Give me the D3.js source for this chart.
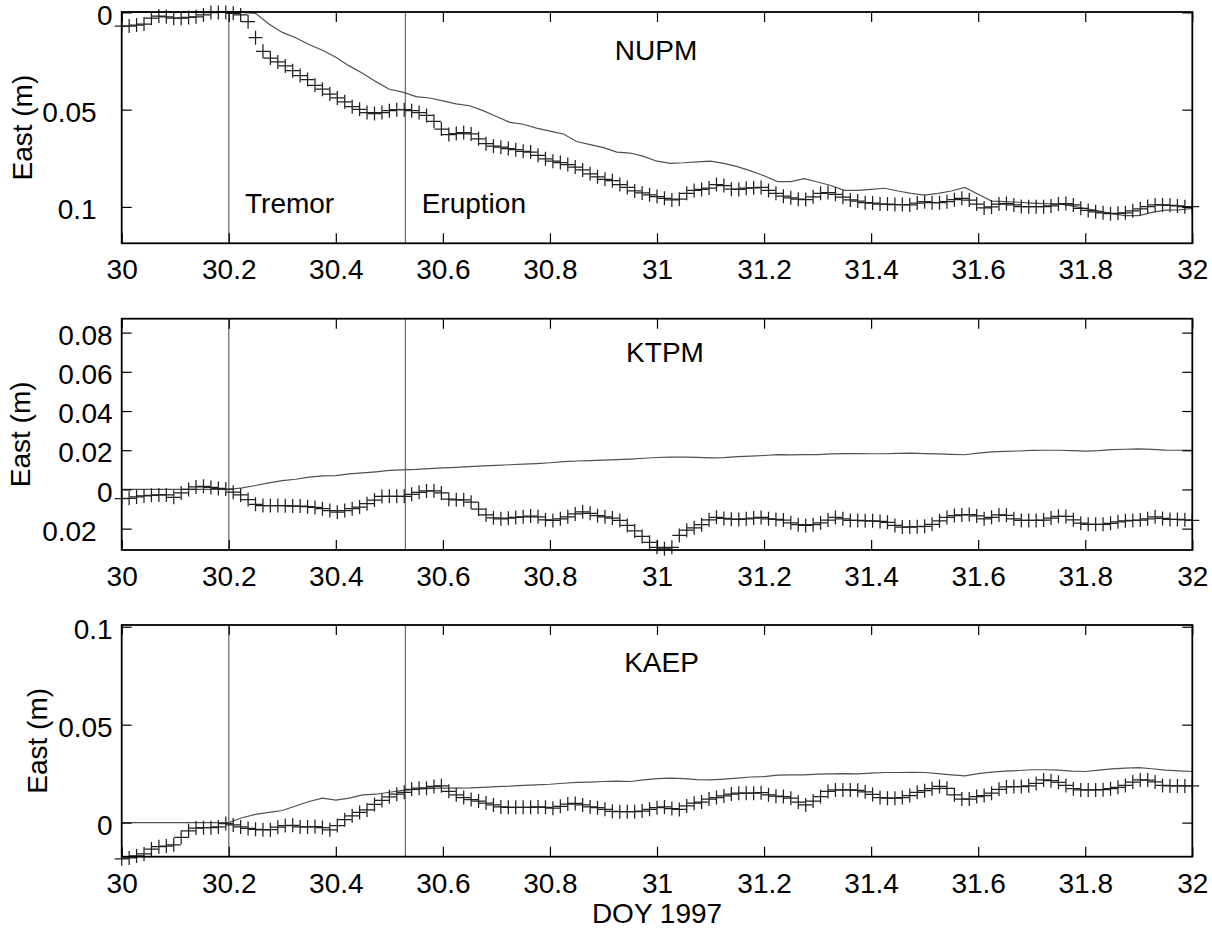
<!DOCTYPE html>
<html>
<head>
<meta charset="utf-8">
<script src="https://cdn.jsdelivr.net/npm/d3@7"></script>
<style>
  html, body { margin: 0; padding: 0; background: #fff; }
  svg { display: block; }
  text { font-family: "Liberation Sans", Arial, Helvetica, sans-serif; fill: #000; }
</style>
</head>
<body>
<svg id="chart" width="1212" height="930"></svg>
<script>
// ---------------- DATA ----------------
// Time axis (day of year 1997)
const xDomain = [30, 32];
const xTicks = [30, 30.2, 30.4, 30.6, 30.8, 31, 31.2, 31.4, 31.6, 31.8, 32];
const xTickLabels = ["30", "30.2", "30.4", "30.6", "30.8", "31", "31.2", "31.4", "31.6", "31.8", "32"];
const xLabel = "DOY 1997";
const yLabel = "East (m)";

// Event markers
const eventTimes = [30.2, 30.53];
const eventNames = ["Tremor", "Eruption"];

// Observed series: 20-minute samples starting at DOY 30.0 (values in mm)
const obsStart = 30;
const obsStep = 1 / 72;
// Model series: samples every 0.025 day starting at DOY 30.0 (values in mm)
const modelStart = 30;
const modelStep = 0.025;

const stations = ["NUPM", "KTPM", "KAEP"];

const nupmObs = [
  -7, -7, -6.5, -6, -3, -1.9, -2.3, -3, -3, -2.6,
  -2.3, -1.3, -0.1, 0, 0, -0.5, -1.3, -4.8, -13, -20,
  -23.5, -25.5, -27.5, -30, -32.5, -34.5, -37.5, -39.5, -42, -44,
  -46, -48.5, -49.8, -51.5, -52, -51.5, -50.5, -50, -50, -50.5,
  -51.5, -53, -56, -60, -62.8, -62.3, -61.8, -62.5, -65, -67.5,
  -68.8, -69.3, -70, -70.6, -71.4, -71.8, -73.5, -75.3, -76.5, -77.2,
  -78.2, -79.5, -81, -83, -84.5, -85.8, -86.5, -88.5, -90, -91.8,
  -92.8, -93.8, -94.7, -95.6, -96.4, -96, -93, -91.5, -91, -90.3,
  -88.5, -89, -90.9, -91, -90.4, -90.2, -90, -91.5, -93, -94.5,
  -95.3, -96, -96.2, -94.8, -93, -92.6, -93.5, -95, -96.4, -97,
  -97.8, -98, -98.5, -98.5, -98.8, -98.8, -99, -98, -97.3, -97.8,
  -97.8, -97.3, -96.3, -95.6, -96.5, -98.5, -100.5, -100, -98.5, -98.3,
  -99, -99.8, -99.9, -99.9, -99.9, -99.5, -98.5, -98.3, -99, -100.7,
  -101.8, -102.5, -103, -103.5, -103.3, -103, -102, -101, -99.8, -99,
  -99, -99.2, -99.5, -99.9, -99.9
];
const nupmModel = [
  0, 0, 0, 0, 0, 0, 0, 0, 0, 0,
  -0.5, -6, -10.3, -13, -16.5, -19.5, -23.1, -27.5, -31.3, -35.6,
  -39.5, -41, -43.3, -44, -45.5, -47, -48, -50.5, -53.5, -56.5,
  -57.5, -59.5, -61, -62.5, -66.4, -68, -69.5, -71.8, -72.3, -74,
  -76.5, -77.6, -77.3, -76.8, -76.5, -77.6, -79.3, -81.5, -84, -87,
  -87, -85.5, -87.2, -89, -91.5, -91.5, -91, -90.4, -91.8, -93,
  -93.9, -93, -91.8, -90, -93.5, -97, -97.3, -97.6, -98, -98.3,
  -98.5, -99.5, -100.8, -102, -103.5, -104.5, -104.5, -102.8, -101.6, -101.5,
  -100.7
];

const ktpmObs = [
  -4.7, -4.5, -3.8, -3.3, -3, -2.8, -2.8, -4, -1.8, 0,
  1.3, 1.6, 1, 0.5, 0.2, -1.4, -2.8, -5.2, -7.6, -8.2,
  -8.2, -8.2, -8.3, -8.5, -8.5, -8.8, -9.2, -9.8, -10.8, -11.6,
  -10.8, -9.8, -9, -7.3, -5.4, -3.6, -3.5, -3.5, -3.5, -2.5,
  -1.5, -0.8, -0.7, -1.8, -5, -5.3, -5.3, -6.5, -10, -13,
  -14.5, -15, -14.7, -14.3, -14, -13.6, -14, -15.5, -15.8, -15,
  -14, -12.5, -11.4, -12.2, -13.4, -14, -14.6, -15.8, -18.4, -21.2,
  -24, -27, -29.5, -30.3, -29.5, -23.5, -20.8, -19.6, -18, -15.5,
  -14.2, -14.8, -15.2, -15.3, -15, -14.6, -14.3, -15, -15.3, -15.6,
  -17, -18, -18.4, -18, -17, -15.6, -14.3, -15, -15.8, -15.8,
  -16, -16, -16.3, -16.8, -18.4, -19.2, -19.2, -19, -18.8, -17.8,
  -16, -14.3, -13.3, -13, -12.8, -13.5, -15, -14.2, -13, -13.2,
  -15, -15.8, -15.8, -15.8, -15.6, -14.6, -13.7, -13.8, -15.5, -17.2,
  -17.8, -17.8, -17.8, -17.3, -16.5, -16, -15.8, -15.6, -15, -14,
  -14.8, -15.3, -15.3, -15.5, -15.8
];
const ktpmModel = [
  0, 0, 0, 0, 0, 0, 0, 0, 0, 0.8,
  2, 3.3, 4.5, 5.2, 6.3, 6.9, 7, 7.9, 8.4, 9,
  9.7, 10, 10.2, 10.6, 11, 11.3, 11.6, 12, 12.3, 12.6,
  12.9, 13.2, 13.6, 14.2, 14.5, 14.7, 14.9, 15.2, 15.5, 15.9,
  16.3, 16.5, 16.5, 16.4, 16.1, 16.2, 16.7, 17, 17.3, 17.8,
  17.6, 17.8, 17.8, 18.1, 18.3, 18.3, 18.2, 18.2, 18.4, 18.5,
  18.3, 18.1, 17.9, 17.7, 18.5, 19.2, 19.4, 19.6, 19.9, 20,
  20, 19.8, 19.5, 19.8, 20.3, 20.5, 20.7, 20.4, 20.1, 20,
  19.9
];

const kaepObs = [
  -18.5, -18, -17, -16, -13.5, -12.3, -12, -11.3, -7.5, -4.2,
  -2.8, -2.6, -2.6, -2.2, -0.5, -1.2, -2.2, -3, -3.4, -3.7,
  -3.6, -2.3, -1.5, -1.4, -2.2, -2.2, -2, -2.5, -3.7, -1.5,
  1.5, 3.5, 5.2, 6.5, 9.3, 11.3, 13.2, 14.5, 15.5, 17,
  17.6, 17.6, 18.5, 18.8, 16, 14.2, 12.8, 11.8, 11, 10,
  9, 8, 7.8, 7.8, 7.8, 7.8, 8, 7.8, 7.4, 8.3,
  9.5, 9.8, 9, 8, 7.6, 6.8, 5.8, 5.6, 5.6, 5.6,
  5.9, 6.8, 7.6, 8, 7.2, 6.7, 8.5, 9.9, 10.5, 12,
  12.8, 13.6, 14.6, 15, 15, 15, 15.3, 14.2, 13.5, 13.3,
  12.5, 10.5, 9, 11, 13.3, 15.9, 16.7, 16.7, 16.7, 16.5,
  15.7, 14.4, 12.8, 12.5, 12.5, 12.8, 13.8, 15.5, 16.3, 17.3,
  18.5, 17.5, 14.2, 12, 12, 13.3, 13.8, 15, 17, 18.2,
  18.4, 18.4, 18.8, 20, 21.8, 21.4, 20.6, 19, 17.3, 16.7,
  16.7, 16.7, 16.8, 17.3, 18, 19, 20.7, 21.8, 21.7, 20.8,
  19, 18.7, 18.7, 18.7, 18.7
];
const kaepModel = [
  0, 0, 0, 0, 0, 0, 0, 0, 0, 2.5,
  4.2, 5.2, 6.2, 8.5, 10.8, 12.5, 11.5, 12.5, 14.2, 14.5,
  15.5, 16.5, 17, 17.5, 17.6, 17.6, 17.7, 18, 18.4, 18.6,
  19, 19.3, 19.6, 20.1, 20.5, 20.7, 21, 21.2, 21, 21.8,
  22.5, 22.7, 22.5, 22, 21.8, 22.2, 22.7, 23.3, 23.5, 24.2,
  24.4, 24.4, 24.8, 24.9, 25, 24.9, 25.3, 25.6, 25.6, 25.7,
  25.6, 25, 24.4, 23.9, 25, 25.8, 26.3, 26.6, 27, 27,
  26.8, 26.3, 26.1, 26.8, 27.4, 27.8, 28.1, 27.5, 26.8, 26.4,
  26.1
];

// y-axis domains (mm) and tick labels (as printed, in m)
const nupmYDomain = [-118.7, 0.2];
const nupmYTicks = [0, -50, -100];
const nupmYTickLabels = ["0", "0.05", "0.1"];
const ktpmYDomain = [-30.9, 87.1];
const ktpmYTicks = [-20, 0, 20, 40, 60, 80];
const ktpmYTickLabels = ["0.02", "0", "0.02", "0.04", "0.06", "0.08"];
const kaepYDomain = [-17.4, 100.9];
const kaepYTicks = [0, 50, 100];
const kaepYTickLabels = ["0", "0.05", "0.1"];

// ---------------- LAYOUT ----------------
const W = 1212, H = 930;
const left = 121.7, right = 1192.3;
const panelsLayout = [
  { top: 12, bottom: 243.3, ylabX: 32, nameX: 656, nameDy: 48 },
  { top: 318.7, bottom: 550, ylabX: 30, nameX: 665, nameDy: 43 },
  { top: 625, bottom: 856.7, ylabX: 47, nameX: 661.5, nameDy: 47 }
];
const panelData = [
  { name: stations[0], obs: nupmObs, model: nupmModel, dom: nupmYDomain, ticks: nupmYTicks, labels: nupmYTickLabels },
  { name: stations[1], obs: ktpmObs, model: ktpmModel, dom: ktpmYDomain, ticks: ktpmYTicks, labels: ktpmYTickLabels },
  { name: stations[2], obs: kaepObs, model: kaepModel, dom: kaepYDomain, ticks: kaepYTicks, labels: kaepYTickLabels }
];

const FS = 28;
const svg = d3.select("#chart");
svg.append("rect").attr("width", W).attr("height", H).attr("fill", "#fff");

const x = d3.scaleLinear().domain(xDomain).range([left, right]);

panelData.forEach((p, pi) => {
  const L = panelsLayout[pi];
  const y = d3.scaleLinear().domain(p.dom).range([L.bottom, L.top]);
  const g = svg.append("g");

  // event lines
  eventTimes.forEach(t => {
    g.append("line")
      .attr("x1", x(t)).attr("x2", x(t))
      .attr("y1", L.top).attr("y2", L.bottom)
      .attr("stroke", "#707070").attr("stroke-width", 1.3);
  });

  // model line
  const modelPts = p.model.map((v, k) => [modelStart + k * modelStep, v]);
  g.append("path")
    .datum(modelPts)
    .attr("fill", "none")
    .attr("stroke", "#505050")
    .attr("stroke-width", 1.2)
    .attr("d", d3.line().x(d => x(d[0])).y(d => y(d[1])));

  // observed markers ('+')
  const obsPts = p.obs.map((v, i) => [obsStart + i * obsStep, v]);
  g.append("g").selectAll("path")
    .data(obsPts)
    .join("path")
    .attr("transform", d => `translate(${x(d[0])},${y(d[1])})`)
    .attr("d", "M-7,0H7M0,-7V7")
    .attr("stroke", "#202020")
    .attr("stroke-width", 1.25)
    .attr("fill", "none");

  // axes with inward ticks on all sides
  const tickLen = 10;
  const axB = g.append("g").attr("transform", `translate(0,${L.bottom})`)
    .call(d3.axisBottom(x).tickValues(xTicks).tickSize(-tickLen).tickFormat((d, i) => xTickLabels[i]));
  axB.selectAll("text").attr("y", 36).attr("dy", 0).style("font-size", FS + "px");
  const axT = g.append("g").attr("transform", `translate(0,${L.top})`)
    .call(d3.axisTop(x).tickValues(xTicks).tickSize(-tickLen).tickFormat(""));
  const axL = g.append("g").attr("transform", `translate(${left},0)`)
    .call(d3.axisLeft(y).tickValues(p.ticks).tickSize(-tickLen).tickFormat((d, i) => p.labels[i]));
  axL.selectAll("text")
    .attr("x", d => d < 0 ? -25 : -9)
    .attr("dy", "0.42em")
    .style("font-size", FS + "px");
  const axR = g.append("g").attr("transform", `translate(${right},0)`)
    .call(d3.axisRight(y).tickValues(p.ticks).tickSize(-tickLen).tickFormat(""));
  [axB, axT, axL, axR].forEach(a => {
    a.select(".domain").remove();
    a.selectAll(".tick line").attr("stroke", "#000").attr("stroke-width", 1.2);
    a.selectAll("text").attr("fill", "#000").style("font-family", "Liberation Sans, Arial, sans-serif");
  });

  // box
  g.append("rect")
    .attr("x", left).attr("y", L.top)
    .attr("width", right - left).attr("height", L.bottom - L.top)
    .attr("fill", "none").attr("stroke", "#000").attr("stroke-width", 1.8);

  // y label
  g.append("text")
    .attr("transform", `translate(${L.ylabX},${(L.top + L.bottom) / 2}) rotate(-90)`)
    .attr("text-anchor", "middle")
    .style("font-size", FS + "px")
    .text(yLabel);

  // station name
  g.append("text")
    .attr("x", L.nameX).attr("y", L.top + L.nameDy)
    .attr("text-anchor", "middle")
    .style("font-size", FS + "px")
    .text(p.name);

  // event names (top panel only)
  if (pi === 0) {
    g.append("text").attr("x", 245).attr("y", 213).style("font-size", FS + "px").text(eventNames[0]);
    g.append("text").attr("x", 421.7).attr("y", 213).style("font-size", FS + "px").text(eventNames[1]);
  }
});

svg.append("text")
  .attr("x", x(31)).attr("y", 923)
  .attr("text-anchor", "middle")
  .style("font-size", FS + "px")
  .text(xLabel);
</script>
</body>
</html>
